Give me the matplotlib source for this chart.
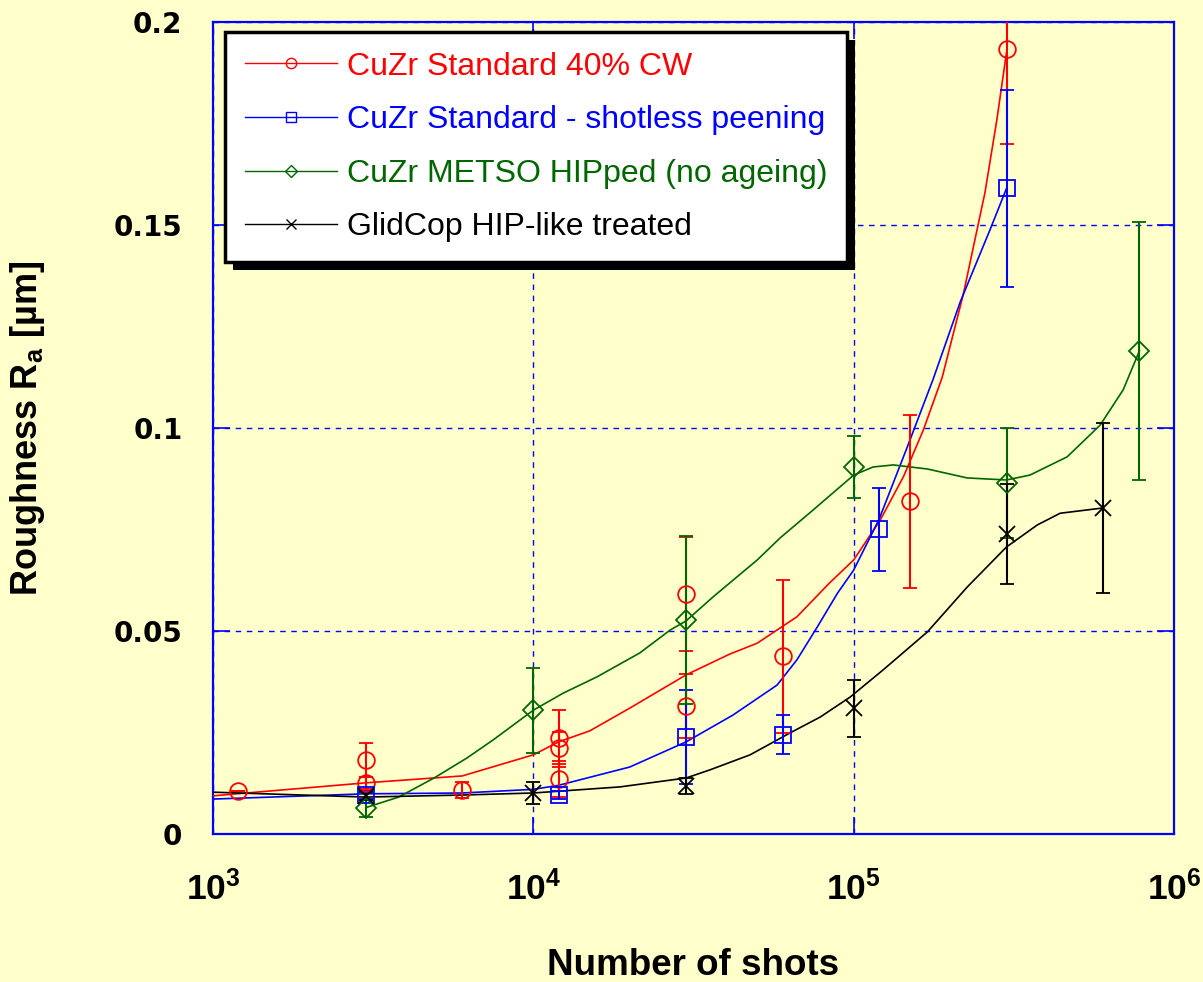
import numpy as np
import matplotlib.pyplot as plt
from matplotlib.lines import Line2D
from matplotlib.patches import Rectangle
from matplotlib.transforms import IdentityTransform
from matplotlib.ticker import FixedLocator, NullLocator

plt.rcParams['font.family'] = ['Liberation Sans', 'DejaVu Sans']
plt.rcParams['mathtext.fontset'] = 'custom'
plt.rcParams['mathtext.rm'] = 'Liberation Sans:bold'
plt.rcParams['mathtext.bf'] = 'Liberation Sans:bold'
plt.rcParams['mathtext.it'] = 'Liberation Sans:bold'

bg = '#FFFFCC'
red = '#FF0000'
blue = '#0000FF'
green = '#006600'
black = '#000000'

labels = ['CuZr Standard 40% CW', 'CuZr Standard - shotless peening',
          'CuZr METSO HIPped (no ageing)', 'GlidCop HIP-like treated']

# measured points (shots, Ra in um, error)
red_x = [1200, 3000, 3000, 6000, 12000, 12000, 12000, 30000, 30000, 60000, 150000, 300000]
red_y = [0.0106, 0.0182, 0.0125, 0.0108, 0.0236, 0.0212, 0.0135, 0.0591, 0.0315, 0.0438, 0.082, 0.1933]
red_err = [0.0, 0.0042, 0.0015, 0.002, 0.007, 0.004, 0.0045, 0.014, 0.0078, 0.0188, 0.0213, 0.0233]

blue_x = [3000, 12000, 30000, 60000, 120000, 300000]
blue_y = [0.0096, 0.0096, 0.0239, 0.0245, 0.0751, 0.159]
blue_err = [0.001, 0.001, 0.0116, 0.0047, 0.0102, 0.0243]

green_x = [3000, 10000, 30000, 100000, 300000, 780000]
green_y = [0.0063, 0.0305, 0.0527, 0.0904, 0.0865, 0.119]
green_err = [0.002, 0.0105, 0.0208, 0.0077, 0.0135, 0.0317]

black_x = [3000, 10000, 30000, 100000, 300000, 600000]
black_y = [0.0094, 0.0101, 0.0118, 0.031, 0.0739, 0.0803]
black_err = [0.001, 0.0027, 0.002, 0.007, 0.0123, 0.021]

# smoothed fit curves as drawn in the original
red_fit_x = [1000, 3000, 6000, 10000, 12000, 15000, 20000, 30000, 41000, 50000, 66500, 84000,
             100000, 105000, 121000, 143000, 165000, 189000, 220000, 257000, 280000, 300000]
red_fit_y = [0.0094, 0.0126, 0.0143, 0.0195, 0.0227, 0.0254, 0.031, 0.0392, 0.0443, 0.047, 0.0535, 0.0618,
             0.0675, 0.070, 0.0773, 0.088, 0.0995, 0.1125, 0.133, 0.158, 0.176, 0.1925]

blue_fit_x = [1000, 3000, 6000, 10000, 12000, 20000, 30000, 42000, 57700, 66500, 77000, 89000,
              100000, 120000, 147000, 177000, 215000, 267000, 300000]
blue_fit_y = [0.0086, 0.0099, 0.0101, 0.011, 0.012, 0.0165, 0.0227, 0.0293, 0.0367, 0.0429, 0.051, 0.0593,
              0.065, 0.0775, 0.0953, 0.112, 0.131, 0.149, 0.159]

green_fit_x = [3000, 3800, 4900, 6200, 7500, 10000, 12400, 15800, 21500, 26700, 30000, 36400, 50000,
               58900, 74700, 100000, 115000, 133000, 170000, 226000, 300000, 355000, 464000, 588000,
               694000, 780000]
green_fit_y = [0.0065, 0.0091, 0.0138, 0.0187, 0.0232, 0.0305, 0.0347, 0.0387, 0.0446, 0.0502, 0.0525,
               0.0584, 0.0675, 0.0729, 0.0798, 0.0884, 0.0904, 0.0909, 0.0899, 0.0877, 0.0872, 0.0884,
               0.0929, 0.1007, 0.1094, 0.119]

black_fit_x = [1000, 3000, 6000, 10000, 18650, 30000, 35600, 47500, 63300, 78600, 97400, 123500,
               170000, 226000, 300000, 374000, 441000, 600000]
black_fit_y = [0.0103, 0.0091, 0.0096, 0.0101, 0.0116, 0.0138, 0.0158, 0.0195, 0.0249, 0.0288, 0.0337,
               0.0404, 0.0498, 0.0608, 0.0707, 0.0761, 0.079, 0.0803]

xticks = [1e3, 1e4, 1e5, 1e6]
xtick_labels = [r'$\mathbf{10^{3}}$', r'$\mathbf{10^{4}}$', r'$\mathbf{10^{5}}$', r'$\mathbf{10^{6}}$']
yticks = [0, 0.05, 0.1, 0.15, 0.2]
ytick_labels = ['0', '0.05', '0.1', '0.15', '0.2']

fig = plt.figure(figsize=(12.03, 9.82), dpi=100, facecolor=bg)
ax = fig.add_axes([213 / 1203, 1 - 834 / 982, 961 / 1203, 812 / 982])
ax.set_facecolor(bg)
ax.set_xscale('log')
ax.set_xlim(1e3, 1e6)
ax.set_ylim(0, 0.2)

series = [
    (red_x, red_y, red_err, red_fit_x, red_fit_y, red, 'o', 12),
    (blue_x, blue_y, blue_err, blue_fit_x, blue_fit_y, blue, 's', 12),
    (green_x, green_y, green_err, green_fit_x, green_fit_y, green, 'D', 10.5),
    (black_x, black_y, black_err, black_fit_x, black_fit_y, black, 'x', 12),
]

handles = []
for sx, sy, se, fx, fy, col, mk, ms in series:
    ax.plot(fx, fy, color=col, lw=1.2, zorder=3)
    ax.errorbar(sx, sy, yerr=se, fmt=mk, ms=ms, mfc='none', mec=col, mew=1.3,
                ecolor=col, elinewidth=1.5, capsize=5, capthick=1.5, zorder=4)
    handles.append(Line2D([], [], color=col, lw=1.0, marker=mk, ms=ms * 0.62,
                          mfc='none', mec=col, mew=1.0))

ax.xaxis.set_major_locator(FixedLocator(xticks))
ax.xaxis.set_minor_locator(NullLocator())
ax.set_xticklabels(xtick_labels, fontsize=25.5)
ax.set_yticks(yticks)
ax.set_yticklabels(ytick_labels, fontsize=20, fontweight='bold', family='DejaVu Sans')

ax.grid(True, color=blue, ls=(0, (4, 4)), lw=1)
ax.tick_params(axis='both', direction='in', length=12, width=1.2, color=blue,
               top=True, right=True)
ax.tick_params(axis='x', pad=26)
ax.tick_params(axis='y', pad=22)
for sp in ax.spines.values():
    sp.set_color(blue)
    sp.set_linewidth(1.6)

ax.set_xlabel('Number of shots', fontsize=26.5, fontweight='bold')
ax.xaxis.set_label_coords(0.5, -0.14)
ax.set_ylabel(r'Roughness R$_\mathbf{a}$ [µm]', fontsize=26, fontweight='bold')
ax.yaxis.set_label_coords(-0.173, 0.5)

leg = ax.legend(handles, labels, loc='upper left', bbox_to_anchor=(0.0125, 0.988),
                borderaxespad=0, fontsize=23, handlelength=2.9, handletextpad=0.3,
                labelspacing=0.74, borderpad=0.62, fancybox=False, framealpha=1,
                edgecolor='black')
leg.get_frame().set_linewidth(2.5)
for txt, (_, _, _, _, _, col, _, _) in zip(leg.get_texts(), series):
    txt.set_color(col)

# drop shadow under the legend box
fig.canvas.draw()
bb = leg.get_window_extent()
shadow = Rectangle((bb.x0 + 8, bb.y0 - 8), bb.width, bb.height, transform=IdentityTransform(),
                   facecolor='black', edgecolor='none', zorder=4.9, clip_on=False)
ax.add_artist(shadow)

fig.savefig('out.png', dpi=100, facecolor=bg)
